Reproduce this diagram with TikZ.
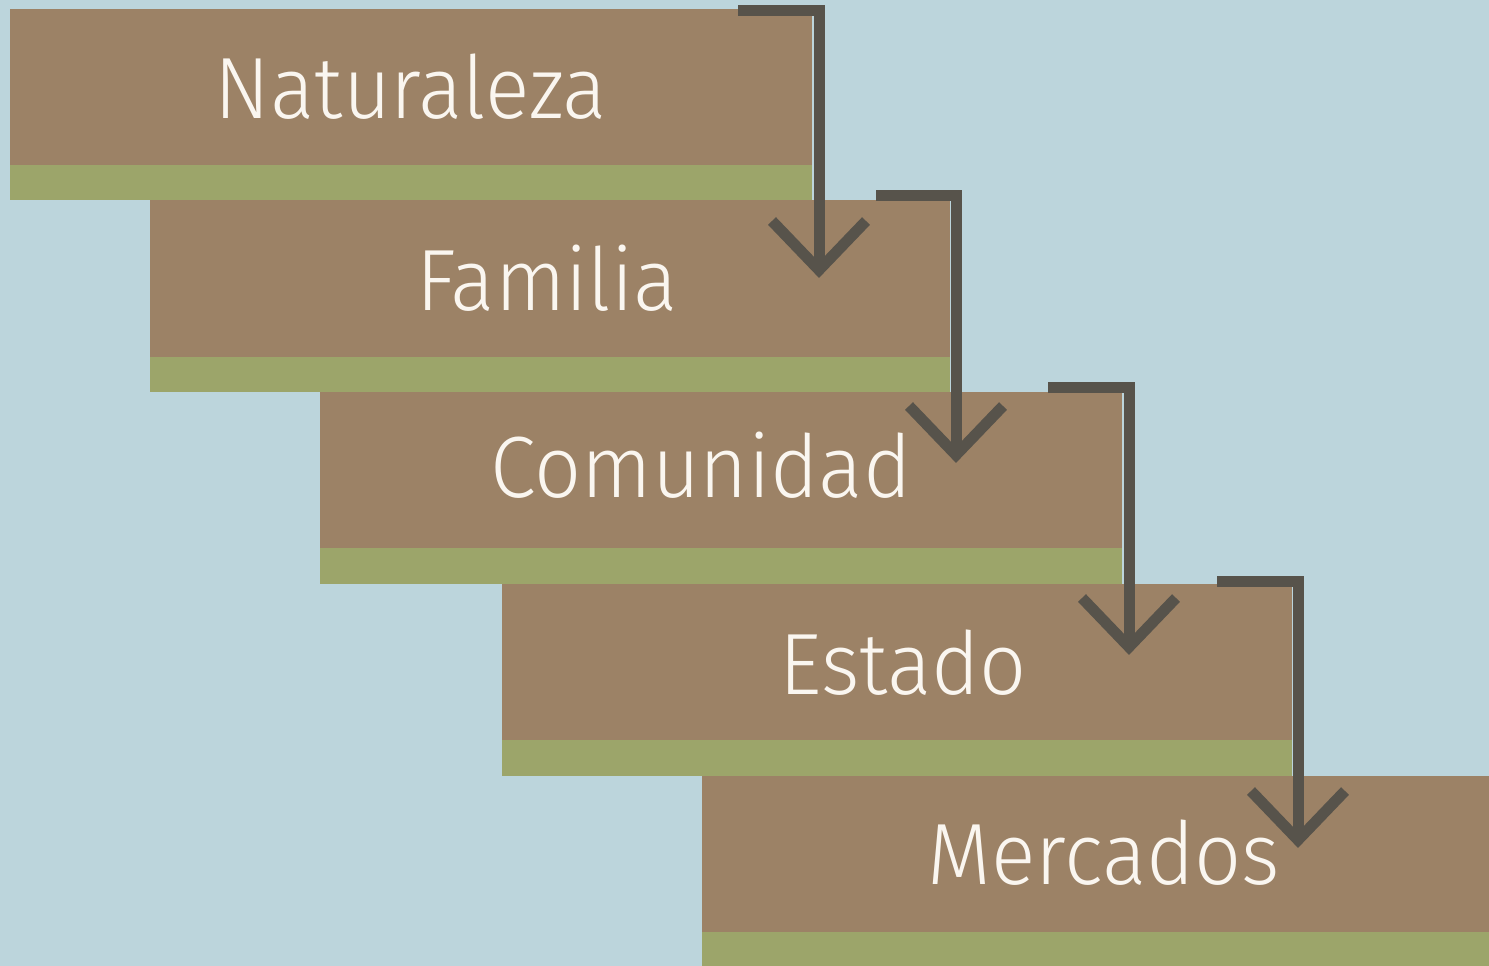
\documentclass[tikz,border=0pt]{standalone}
\usepackage{fontspec}
\setmainfont{Fira Sans}[UprightFont=* Light]
\usetikzlibrary{calc}
\definecolor{bg}{HTML}{BCD5DC}
\definecolor{brownb}{HTML}{9C8266}
\definecolor{greenb}{HTML}{9CA56A}
\definecolor{arrowc}{HTML}{57534B}
\definecolor{txt}{HTML}{FAF6F0}
\begin{document}
\begin{tikzpicture}[x=1pt,y=-1pt,
  brownpart/.style={fill=brownb},
  greenpart/.style={fill=greenb},
  lbl/.style={anchor=base,text=txt,font=\fontsize{87}{90}\selectfont,inner sep=0pt,xscale=0.95,transform shape},
  arr/.style={draw=arrowc,line width=11pt},
  barb/.style={draw=arrowc,line width=11pt,line cap=butt,line join=miter}]
\fill[bg] (0,0) rectangle (1489,966);
\useasboundingbox (0,0) rectangle (1489,966);
% steps
\fill[brownpart] (10,9) rectangle (812,165);
\fill[greenpart] (10,165) rectangle (812,200);
\fill[brownpart] (150,200) rectangle (950,357);
\fill[greenpart] (150,357) rectangle (950,392);
\fill[brownpart] (320,392) rectangle (1122,548);
\fill[greenpart] (320,548) rectangle (1122,584);
\fill[brownpart] (502,584) rectangle (1292,740);
\fill[greenpart] (502,740) rectangle (1292,776);
\fill[brownpart] (702,776) rectangle (1489,932);
\fill[greenpart] (702,932) rectangle (1489,966);
% labels
\node[lbl] (n1) at (411,118) {Naturaleza};
\node[lbl] (n2) at (547,310) {Familia};
\node[lbl] (n3) at (701,497) {Comunidad};
\node[lbl] (n4) at (903,694) {Estado};
\node[lbl] (n5) at (1104,884) {Mercados};
% arrow coordinates
\coordinate (s1) at (738,11);  \coordinate (c1) at (819,11);  \coordinate (t1) at (819,270);
\coordinate (s2) at (876,195); \coordinate (c2) at (956,195); \coordinate (t2) at (956,455);
\coordinate (s3) at (1048,387);\coordinate (c3) at (1129,387);\coordinate (t3) at (1129,647);
\coordinate (s4) at (1217,581);\coordinate (c4) at (1298,581);\coordinate (t4) at (1298,840);
\foreach \i in {1,2,3,4}{
  \draw[arr] (s\i) -- (c\i) -- (t\i);
  \draw[barb] ($(t\i)+(-47,-49)$) -- (t\i) -- ($(t\i)+(47,-49)$);
}
\end{tikzpicture}
\end{document}
